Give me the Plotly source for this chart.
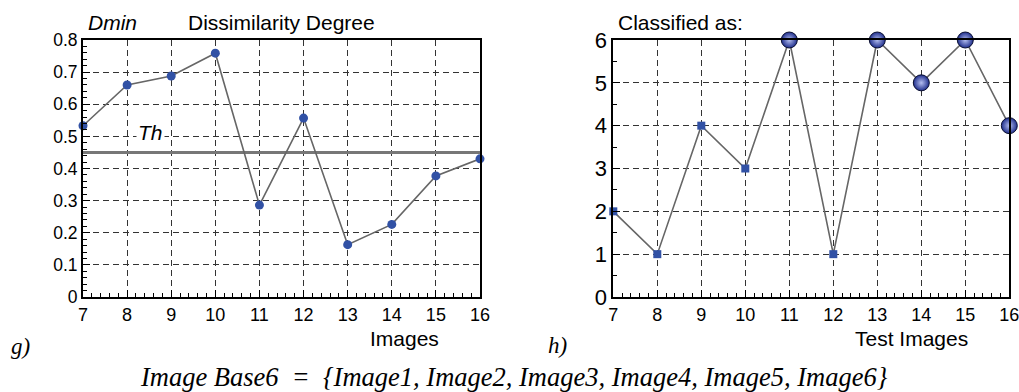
import plotly.graph_objects as go

images = [7, 8, 9, 10, 11, 12, 13, 14, 15, 16]
dmin = [0.533, 0.660, 0.688, 0.759, 0.286, 0.557, 0.163, 0.226, 0.377, 0.430]
th = 0.45
classified = [2, 1, 4, 3, 6, 1, 6, 5, 6, 4]

left_ticks = [0, 0.1, 0.2, 0.3, 0.4, 0.5, 0.6, 0.7, 0.8]
left_tick_labels = ["0", "0.1", "0.2", "0.3", "0.4", "0.5", "0.6", "0.7", "0.8"]
right_ticks = [0, 1, 2, 3, 4, 5, 6]

# split classification markers by threshold (accepted = squares, rejected = spheres)
acc_x = [x for x, d in zip(images, dmin) if d >= th]
acc_y = [c for c, d in zip(classified, dmin) if d >= th]
rej_x = [x for x, d in zip(images, dmin) if d < th]
rej_y = [c for c, d in zip(classified, dmin) if d < th]

SANS = "Liberation Sans, Arial, sans-serif"
SERIF = "Liberation Serif, Times New Roman, serif"
BLUE = "#3151a5"
LINE = "#666666"

W, H = 1019, 392
OFF = 0  # body margin removed via post_script


def px(x):
    return (x - OFF) / W


def py(y):
    return 1 - (y - OFF) / H


fig = go.Figure()

# left chart
fig.add_trace(go.Scatter(x=[images[0], images[-1]], y=[th, th], mode="lines",
                         line=dict(color="#777777", width=3), xaxis="x", yaxis="y",
                         hoverinfo="skip", cliponaxis=False))
fig.add_trace(go.Scatter(x=images, y=dmin, mode="lines+markers",
                         line=dict(color=LINE, width=1.6),
                         marker=dict(symbol="circle", size=9, color=BLUE),
                         xaxis="x", yaxis="y", cliponaxis=False))

# right chart
fig.add_trace(go.Scatter(x=images, y=classified, mode="lines",
                         line=dict(color=LINE, width=1.6),
                         xaxis="x2", yaxis="y2", cliponaxis=False))
fig.add_trace(go.Scatter(x=acc_x, y=acc_y, mode="markers",
                         marker=dict(symbol="square", size=8, color=BLUE),
                         xaxis="x2", yaxis="y2", cliponaxis=False))
fig.add_trace(go.Scatter(x=rej_x, y=rej_y, mode="markers",
                         marker=dict(symbol="circle", size=16, color="#1f2e8c",
                                     gradient=dict(type="radial", color="#b4bef0"),
                                     line=dict(color="#0a0f30", width=1)),
                         xaxis="x2", yaxis="y2", cliponaxis=False))

grid_common = dict(showgrid=True, gridcolor="#333333", griddash="6px,4px", gridwidth=1,
                   showline=True, linecolor="black", linewidth=2, mirror=True,
                   ticks="inside", tickcolor="black", zeroline=False, automargin=False,
                   ticklabeloverflow="allow")

ydom = [py(297), py(40)]

fig.update_layout(
    width=W, height=H,
    margin=dict(l=0, r=0, t=0, b=0, autoexpand=False),
    paper_bgcolor="white", plot_bgcolor="white",
    showlegend=False,
    xaxis=dict(domain=[px(83), px(480)], range=[7, 16], tickmode="array", tickvals=images,
               ticklen=7, tickwidth=1, tickfont=dict(family=SANS, size=18, color="black"),
               minor=dict(dtick=0.2, ticklen=4, ticks="inside", tickcolor="black", showgrid=False),
               anchor="y", **grid_common),
    yaxis=dict(domain=ydom, range=[0, 0.8], tickmode="array", tickvals=left_ticks,
               ticktext=left_tick_labels, ticklen=7, tickwidth=1,
               tickfont=dict(family=SANS, size=17.5, color="black"),
               minor=dict(dtick=0.02, ticklen=4, ticks="inside", tickcolor="black", showgrid=False),
               anchor="x", **grid_common),
    xaxis2=dict(domain=[px(613.3), px(1009.3)], range=[7, 16], tickmode="array", tickvals=images,
                ticklen=7, tickwidth=1, tickfont=dict(family=SANS, size=18, color="black"),
                minor=dict(dtick=0.2, ticklen=4, ticks="inside", tickcolor="black", showgrid=False),
                anchor="y2", **grid_common),
    yaxis2=dict(domain=ydom, range=[0, 6], tickmode="array", tickvals=right_ticks,
                ticklen=7, tickwidth=1, tickfont=dict(family=SANS, size=22, color="black"),
                minor=dict(dtick=0.5, ticklen=4, ticks="inside", tickcolor="black", showgrid=False),
                anchor="x2", **grid_common),
)

ann = [
    dict(text="<i>Dmin</i>", x=87, y=22, size=21, fam=SANS, xa="left"),
    dict(text="Dissimilarity Degree", x=187, y=22, size=21, fam=SANS, xa="left"),
    dict(text="Images", x=404, y=338, size=21, fam=SANS, xa="center"),
    dict(text="<i>g)</i>", x=10, y=346, size=23, fam=SERIF, xa="left"),
    dict(text="Classified as:", x=617, y=22, size=21, fam=SANS, xa="left"),
    dict(text="Test Images", x=911, y=338, size=21, fam=SANS, xa="center"),
    dict(text="<i>h)</i>", x=547, y=345, size=23, fam=SERIF, xa="left"),
    dict(text="<i>Image Base6  =  {Image1, Image2, Image3, Image4, Image5, Image6}</i>",
         x=514, y=377, size=26.5, fam=SERIF, xa="center"),
]
for a in ann:
    fig.add_annotation(text=a["text"], xref="paper", yref="paper",
                       x=px(a["x"]), y=py(a["y"]), xanchor=a["xa"], yanchor="middle",
                       showarrow=False, borderpad=0,
                       font=dict(family=a["fam"], size=a["size"], color="black"))

fig.add_annotation(text="<i>Th</i>", xref="x", yref="y", x=8.52, y=th + 0.063,
                   showarrow=False, bgcolor="white", borderpad=1,
                   font=dict(family=SANS, size=21, color="black"))

fig.write_html("out.html", config={"displayModeBar": False},
               post_script="document.body.style.margin='0';document.body.style.overflow='hidden';")
